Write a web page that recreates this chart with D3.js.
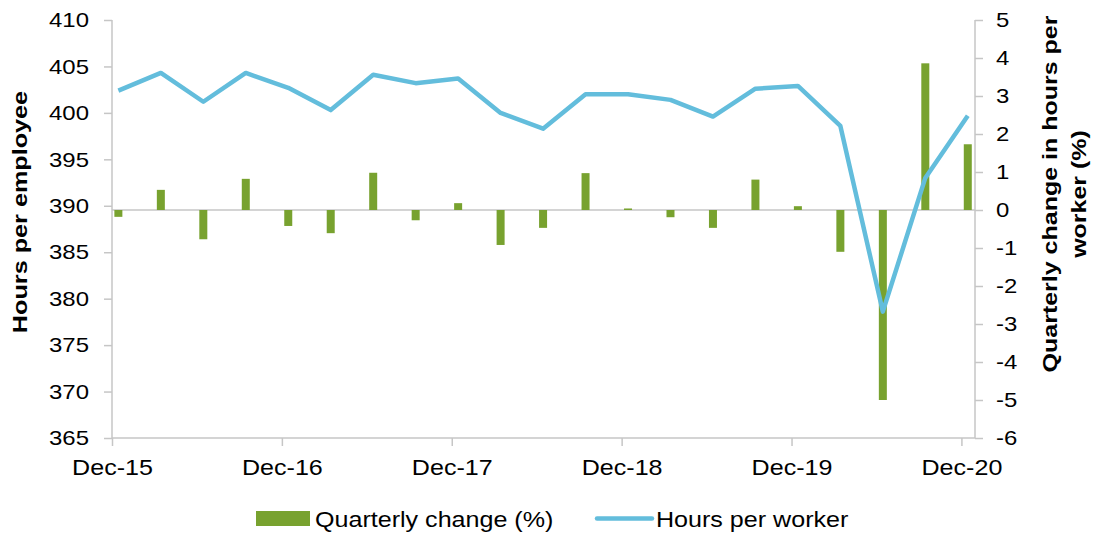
<!DOCTYPE html>
<html lang="en">
<head>
<meta charset="utf-8">
<title>Hours per employee</title>
<script src="https://cdn.jsdelivr.net/npm/d3@7"></script>
<style>
  body { margin: 0; background: #fff; }
  text { font-family: "Liberation Sans", Arial, sans-serif; fill: #000; }
</style>
</head>
<body>
<script>
// quarters Dec-15 .. Dec-20
var quarters = ["Dec-15","Mar-16","Jun-16","Sep-16","Dec-16","Mar-17","Jun-17","Sep-17","Dec-17",
                "Mar-18","Jun-18","Sep-18","Dec-18","Mar-19","Jun-19","Sep-19","Dec-19",
                "Mar-20","Jun-20","Sep-20","Dec-20"];
var hoursPerWorker = [402.4,404.3,401.2,404.3,402.7,400.3,404.1,403.2,403.7,400.0,398.3,
                      402.0,402.0,401.4,399.6,402.6,402.9,398.6,378.6,393.0,399.7];
var quarterlyChange = [-0.18,0.53,-0.77,0.82,-0.42,-0.61,0.98,-0.27,0.18,-0.92,-0.47,
                       0.97,0.04,-0.19,-0.47,0.80,0.10,-1.10,-5.0,3.86,1.73];
var xTickIdx = [0,4,8,12,16,20];
var xTickLabels = ["Dec-15","Dec-16","Dec-17","Dec-18","Dec-19","Dec-20"];
var leftTicks = d3.range(365, 411, 5);
var rightTicks = d3.range(-6, 6, 1);

var W = 1094, H = 535;
var plotL = 112, plotR = 975, plotT = 20, plotB = 438;
var green = "#78a22f", blue = "#63bddc", axisCol = "#c6c6c6";

var svg = d3.select("body").append("svg").attr("width", W).attr("height", H);

var x = d3.scaleLinear().domain([-0.15, 20.17]).range([plotL, plotR]);
var yL = d3.scaleLinear().domain([365, 410]).range([plotB, plotT]);
var yR = d3.scaleLinear().domain([-6, 5]).range([plotB, plotT]);

// the text in the source is drawn a little wider than Arial
function stretch(sel, k) {
  sel.each(function() {
    var len = this.getComputedTextLength();
    d3.select(this).attr("textLength", len * k).attr("lengthAdjust", "spacingAndGlyphs");
  });
}

// zero line for the bars
svg.append("line")
  .attr("x1", plotL).attr("x2", plotR)
  .attr("y1", yR(0)).attr("y2", yR(0))
  .attr("stroke", axisCol).attr("stroke-width", 1.5);

// bars
svg.selectAll(".bar").data(quarterlyChange).enter().append("rect")
  .attr("class", "bar")
  .attr("x", function(d, i) { return x(i) - 4; })
  .attr("width", 8)
  .attr("y", function(d) { return yR(Math.max(0, d)); })
  .attr("height", function(d) { return Math.abs(yR(d) - yR(0)); })
  .attr("fill", green);

// line
var line = d3.line()
  .x(function(d, i) { return x(i); })
  .y(function(d) { return yL(d); });
svg.append("path").datum(hoursPerWorker)
  .attr("d", line)
  .attr("fill", "none")
  .attr("stroke", blue)
  .attr("stroke-width", 4.5)
  .attr("stroke-linejoin", "round");

// axes
var left = svg.append("g").attr("transform", "translate(" + plotL + ",0)")
  .call(d3.axisLeft(yL).tickValues(leftTicks).tickSize(8).tickPadding(15));
var right = svg.append("g").attr("transform", "translate(" + plotR + ",0)")
  .call(d3.axisRight(yR).tickValues(rightTicks).tickSize(8).tickPadding(13)
    .tickFormat(function(d) { return d < 0 ? "-" + Math.abs(d) : d; }));
var bottom = svg.append("g").attr("transform", "translate(0," + plotB + ")")
  .call(d3.axisBottom(x)
    .tickValues(xTickIdx.map(function(v) { return v - 0.15; }))
    .tickFormat(function(d, i) { return xTickLabels[i]; })
    .tickSize(8).tickPadding(13));

[left, right, bottom].forEach(function(g) {
  g.select(".domain").attr("stroke", axisCol).attr("stroke-width", 1.5);
  g.selectAll(".tick line").attr("stroke", axisCol).attr("stroke-width", 1.5);
  g.selectAll(".tick text").style("font-size", "21px").attr("fill", "#000");
});
bottom.selectAll(".tick text").style("font-size", "22px");
left.select(".domain").attr("d", "M0," + plotT + "V" + plotB);
right.select(".domain").attr("d", "M0," + plotT + "V" + plotB);
bottom.select(".domain").attr("d", "M" + plotL + ",0H" + plotR);
[left, right, bottom].forEach(function(g) { stretch(g.selectAll(".tick text"), 1.14); });

// axis titles
var lt = svg.append("text")
  .attr("transform", "translate(27,212) rotate(-90)")
  .attr("text-anchor", "middle")
  .style("font-size", "21px").style("font-weight", "bold")
  .text("Hours per employee");
stretch(lt, 1.2);

var rt1 = svg.append("text")
  .attr("transform", "translate(1057,194) rotate(-90)")
  .attr("text-anchor", "middle")
  .style("font-size", "21px").style("font-weight", "bold")
  .text("Quarterly change in hours per");
var rt2 = svg.append("text")
  .attr("transform", "translate(1086,194) rotate(-90)")
  .attr("text-anchor", "middle")
  .style("font-size", "21px").style("font-weight", "bold")
  .text("worker (%)");
stretch(rt1, 1.19);
stretch(rt2, 1.19);

// legend
var leg = svg.append("g");
leg.append("rect").attr("x", 256).attr("y", 511).attr("width", 54).attr("height", 15).attr("fill", green);
var lg1 = leg.append("text").attr("x", 315).attr("y", 527)
  .style("font-size", "22px").text("Quarterly change (%)");
leg.append("line").attr("x1", 597).attr("x2", 652).attr("y1", 518.5).attr("y2", 518.5)
  .attr("stroke", blue).attr("stroke-width", 4.5).attr("stroke-linecap", "round");
var lg2 = leg.append("text").attr("x", 656).attr("y", 527)
  .style("font-size", "22px").text("Hours per worker");
stretch(lg1, 1.14);
stretch(lg2, 1.14);
</script>
</body>
</html>
